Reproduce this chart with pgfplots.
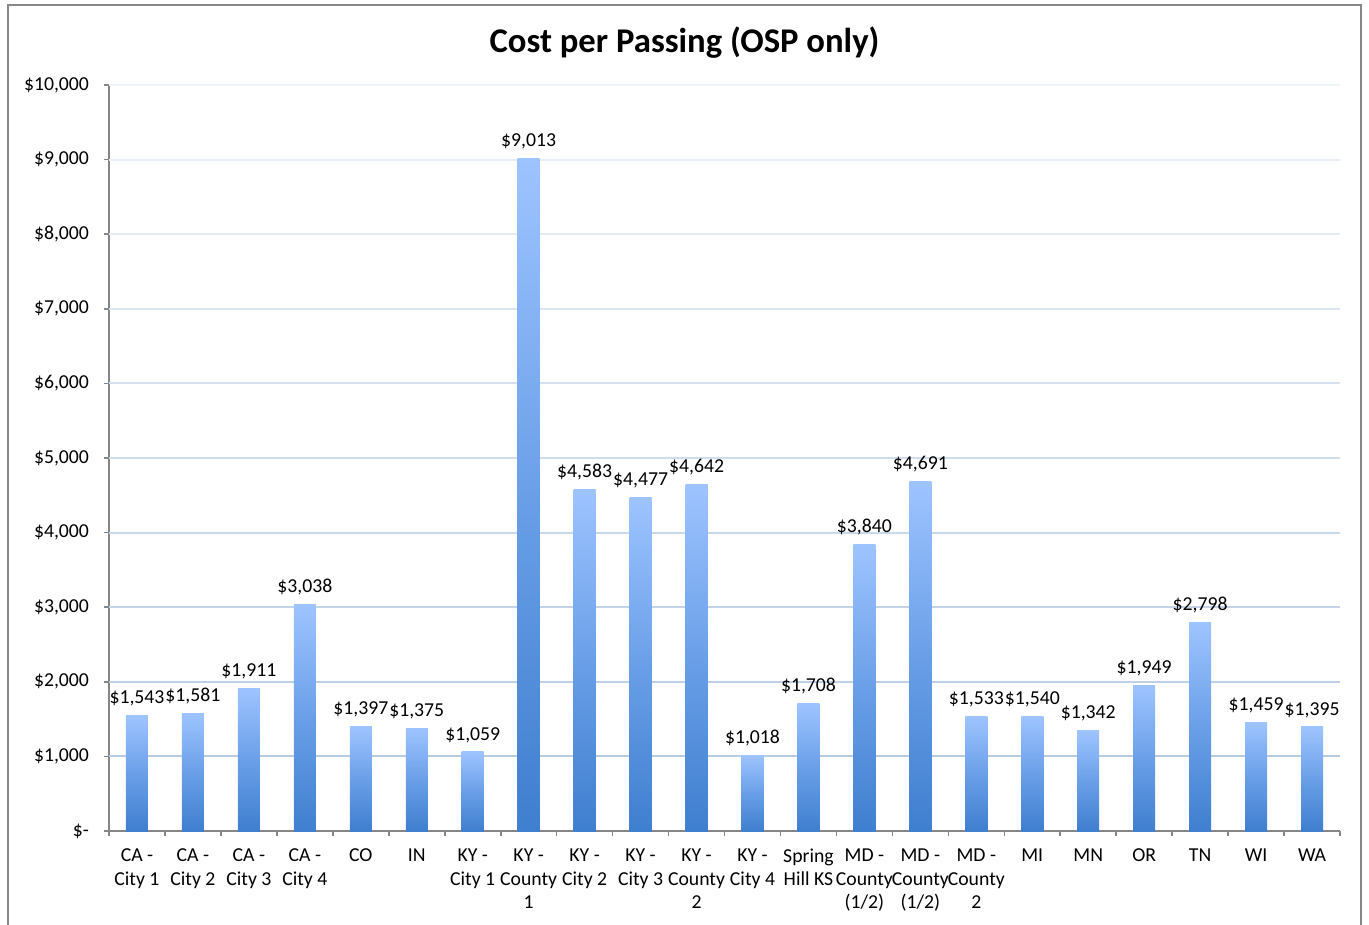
\documentclass[border=0pt]{standalone}
\usepackage{pgfplots}
\pgfplotsset{compat=1.18}
\usepackage{fontspec}
\setmainfont{Carlito}

\definecolor{barTop}{HTML}{9EC4FF}
\definecolor{barMid}{HTML}{6A9FE8}
\definecolor{barBot}{HTML}{3F7FCF}
\definecolor{gridc}{HTML}{B8CCE4}
\definecolor{axisc}{HTML}{868686}
\definecolor{framec}{HTML}{878787}

\pgfplotstableread{
idx cost
1  1543
2  1581
3  1911
4  3038
5  1397
6  1375
7  1059
8  9013
9  4583
10 4477
11 4642
12 1018
13 1708
14 3840
15 4691
16 1533
17 1540
18 1342
19 1949
20 2798
21 1459
22 1395
}\costdata

\newcommand{\lbl}{\fontsize{9.9}{11.7}\selectfont}

\begin{document}
\begin{tikzpicture}[x=0.5bp,y=0.5bp]
\path[use as bounding box] (0,0) rectangle (1369,924);
% chart frame
\draw[framec, line width=1.3bp] (8,-10) -- (8,919) -- (1361,919) -- (1361,-10);
% title
\node[anchor=base, font=\fontsize{17.4}{20}\selectfont\bfseries] at (684.5,871) {Cost per Passing (OSP only)};

\begin{axis}[
  at={(54.5bp,46.5bp)}, anchor=south west,
  scale only axis, width=615.5bp, height=373bp,
  xmin=0.5, xmax=22.5, ymin=0, ymax=10000,
  scaled y ticks=false,
  axis lines*=left,
  axis line style={axisc, line width=0.8bp},
  ytick={0,1000,...,10000},
  yticklabels={\$-,{\$1,000},{\$2,000},{\$3,000},{\$4,000},{\$5,000},{\$6,000},{\$7,000},{\$8,000},{\$9,000},{\$10,000}},
  xtick={1,...,22},
  xticklabels={{CA -\\City 1},{CA -\\City 2},{CA -\\City 3},{CA -\\City 4},CO,IN,{KY -\\City 1},{KY -\\County\\1},{KY -\\City 2},{KY -\\City 3},{KY -\\County\\2},{KY -\\City 4},{Spring\\Hill KS},{MD -\\County\\(1/2)},{MD -\\County\\(1/2)},{MD -\\County\\2},MI,MN,OR,TN,WI,WA},
  minor xtick={0.5,1.5,...,22.5},
  tick align=outside,
  major tick length=2.5bp, minor tick length=2.5bp,
  major x tick style={draw=none},
  tick style={axisc, line width=0.8bp},
  yticklabel style={font=\lbl, text=black, xshift=-4bp},
  xticklabel style={font=\lbl, text=black, align=center, anchor=north, yshift=-3bp},
  /pgf/number format/assume math mode=true,
  ybar, bar width=11bp, bar shift=0pt,
  nodes near coords={\$\pgfmathprintnumber[assume math mode=true,fixed,precision=0,1000 sep={,}]{\pgfplotspointmeta}},
  nodes near coords style={font=\lbl, text=black, anchor=south, inner sep=4.5bp},
  clip=false,
]
% horizontal grid, fading towards the top
\draw[gridc!100!white, line width=1bp] (axis cs:0.5,1000) -- (axis cs:22.5,1000);
\draw[gridc!92!white, line width=1bp] (axis cs:0.5,2000) -- (axis cs:22.5,2000);
\draw[gridc!84!white, line width=1bp] (axis cs:0.5,3000) -- (axis cs:22.5,3000);
\draw[gridc!76!white, line width=1bp] (axis cs:0.5,4000) -- (axis cs:22.5,4000);
\draw[gridc!67!white, line width=1bp] (axis cs:0.5,5000) -- (axis cs:22.5,5000);
\draw[gridc!58!white, line width=1bp] (axis cs:0.5,6000) -- (axis cs:22.5,6000);
\draw[gridc!49!white, line width=1bp] (axis cs:0.5,7000) -- (axis cs:22.5,7000);
\draw[gridc!40!white, line width=1bp] (axis cs:0.5,8000) -- (axis cs:22.5,8000);
\draw[gridc!31!white, line width=1bp] (axis cs:0.5,9000) -- (axis cs:22.5,9000);
\draw[gridc!22!white, line width=1bp] (axis cs:0.5,10000) -- (axis cs:22.5,10000);

% one plot per bar, so that every bar gets its own top-to-bottom gradient
\pgfplotsinvokeforeach{1,...,22}{
  \addplot[draw=none, shading=axis, top color=barTop, bottom color=barBot, middle color=barMid,
    x filter/.expression={abs(x-#1)<0.1 ? x : nan}]
    table[x=idx, y=cost] {\costdata};
}
\end{axis}
\end{tikzpicture}
\end{document}
